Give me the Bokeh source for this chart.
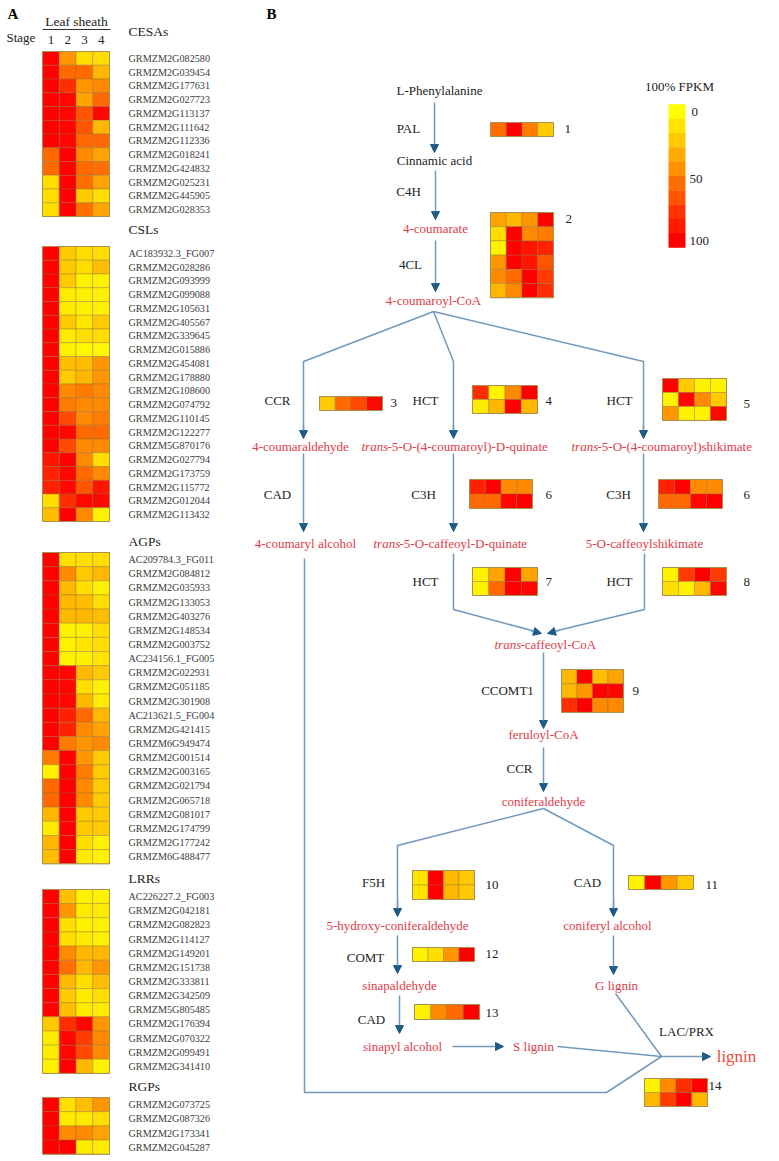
from bokeh.plotting import figure
from bokeh.models import Range1d, ColumnDataSource, Arrow, NormalHead
from bokeh.transform import linear_cmap
from bokeh.core.properties import value
from bokeh.embed import file_html
from bokeh.resources import INLINE

# ---------------- data ----------------
stages = ["1", "2", "3", "4"]

cesa_genes = ["GRMZM2G082580", "GRMZM2G039454", "GRMZM2G177631", "GRMZM2G027723",
              "GRMZM2G113137", "GRMZM2G111642", "GRMZM2G112336", "GRMZM2G018241",
              "GRMZM2G424832", "GRMZM2G025231", "GRMZM2G445905", "GRMZM2G028353"]
cesa_values = [[100, 42, 15, 15], [100, 60, 60, 30], [100, 80, 40, 45], [100, 95, 35, 60],
               [100, 95, 65, 95], [100, 95, 65, 30], [100, 95, 60, 60], [60, 100, 45, 35],
               [60, 100, 60, 55], [15, 100, 55, 35], [15, 100, 20, 15], [15, 100, 55, 35]]

csl_genes = ["AC183932.3_FG007", "GRMZM2G028286", "GRMZM2G093999", "GRMZM2G099088",
             "GRMZM2G105631", "GRMZM2G405567", "GRMZM2G339645", "GRMZM2G015886",
             "GRMZM2G454081", "GRMZM2G178880", "GRMZM2G108600", "GRMZM2G074792",
             "GRMZM2G110145", "GRMZM2G122277", "GRMZM5G870176", "GRMZM2G027794",
             "GRMZM2G173759", "GRMZM2G115772", "GRMZM2G012044", "GRMZM2G113432"]
csl_values = [[100, 20, 15, 15], [100, 20, 15, 25], [100, 20, 5, 5], [100, 8, 5, 5],
              [100, 8, 5, 5], [100, 20, 10, 20], [100, 8, 15, 15], [100, 5, 3, 3],
              [100, 25, 25, 40], [100, 20, 30, 40], [100, 45, 50, 45], [100, 50, 45, 45],
              [100, 70, 45, 50], [100, 95, 60, 60], [100, 70, 45, 45], [90, 100, 45, 15],
              [85, 95, 60, 45], [85, 95, 65, 90], [15, 80, 95, 95], [25, 100, 45, 5]]

agp_genes = ["AC209784.3_FG011", "GRMZM2G084812", "GRMZM2G035933", "GRMZM2G133053",
             "GRMZM2G403276", "GRMZM2G148534", "GRMZM2G003752", "AC234156.1_FG005",
             "GRMZM2G022931", "GRMZM2G051185", "GRMZM2G301908", "AC213621.5_FG004",
             "GRMZM2G421415", "GRMZM6G949474", "GRMZM2G001514", "GRMZM2G003165",
             "GRMZM2G021794", "GRMZM2G065718", "GRMZM2G081017", "GRMZM2G174799",
             "GRMZM2G177242", "GRMZM6G488477"]
agp_values = [[100, 15, 15, 15], [100, 45, 20, 30], [100, 30, 15, 5], [100, 30, 25, 15],
              [100, 30, 30, 25], [100, 5, 5, 15], [100, 5, 10, 15], [100, 5, 5, 10],
              [100, 95, 30, 20], [100, 95, 15, 5], [100, 95, 30, 8], [100, 85, 60, 30],
              [100, 85, 45, 35], [100, 50, 40, 45], [50, 100, 40, 20], [5, 100, 50, 20],
              [60, 100, 45, 20], [60, 100, 45, 20], [30, 100, 20, 20], [8, 100, 20, 20],
              [30, 100, 15, 5], [25, 100, 8, 5]]

lrr_genes = ["AC226227.2_FG003", "GRMZM2G042181", "GRMZM2G082823", "GRMZM2G114127",
             "GRMZM2G149201", "GRMZM2G151738", "GRMZM2G333811", "GRMZM2G342509",
             "GRMZM5G805485", "GRMZM2G176394", "GRMZM2G070322", "GRMZM2G099491",
             "GRMZM2G341410"]
lrr_values = [[100, 25, 5, 5], [100, 40, 8, 8], [100, 15, 5, 5], [100, 15, 8, 5],
              [100, 45, 30, 30], [100, 55, 30, 40], [100, 30, 15, 25], [100, 20, 8, 15],
              [100, 25, 8, 8], [20, 80, 95, 40], [8, 95, 75, 45], [8, 95, 70, 45],
              [5, 100, 30, 5]]

rgp_genes = ["GRMZM2G073725", "GRMZM2G087326", "GRMZM2G173341", "GRMZM2G045287"]
rgp_values = [[100, 15, 25, 40], [100, 8, 8, 15], [100, 45, 45, 35], [100, 100, 8, 8]]

# pathway enzyme heatmaps (panel B)
pal_values = [[55, 100, 50, 20]]
cl4_values = [[35, 30, 40, 100], [15, 100, 45, 50], [5, 100, 90, 85],
              [40, 100, 90, 65], [45, 60, 100, 75], [30, 45, 100, 80]]
ccr3_values = [[20, 60, 70, 95]]
hct4_values = [[80, 5, 45, 100], [8, 30, 100, 30]]
hct5_values = [[100, 20, 5, 5], [5, 95, 45, 20], [40, 5, 5, 95]]
c3h6_values = [[85, 100, 45, 45], [60, 60, 95, 100]]
hct7_values = [[5, 35, 100, 35], [5, 60, 100, 95]]
hct8_values = [[5, 75, 100, 75], [15, 5, 30, 95]]
ccomt9_values = [[30, 100, 25, 35], [30, 40, 100, 95], [80, 100, 45, 45]]
f5h10_values = [[10, 100, 30, 20], [10, 100, 30, 20]]
cad11_values = [[5, 100, 40, 20]]
comt12_values = [[5, 15, 40, 100]]
cad13_values = [[5, 45, 60, 100]]
lac14_values = [[5, 45, 80, 100], [30, 75, 100, 30]]

colorbar_ticks = ["0", "50", "100"]

# ---------------- figure ----------------
W, H = 779, 1161
p = figure(width=W, height=H, x_range=Range1d(0, W), y_range=Range1d(H, 0),
           output_backend="svg", toolbar_location=None, min_border=0,
           x_axis_location=None, y_axis_location=None)
p.grid.visible = False
p.outline_line_color = None
p.background_fill_color = "white"

PALETTE = ["#ff%02x00" % int(round(255 * (1 - i / 39))) for i in range(40)]
FONT = value("Liberation Serif")
RED = "#e23a47"
BLACK = "#222222"


def heat(values, x0, y0, cw, ch):
    xs, ys, vs = [], [], []
    for i, row in enumerate(values):
        for j, v in enumerate(row):
            xs.append(x0 + cw * (j + 0.5))
            ys.append(y0 + ch * (i + 0.5))
            vs.append(v)
    src = ColumnDataSource(dict(x=xs, y=ys, v=vs))
    p.rect("x", "y", width=cw, height=ch, source=src,
           fill_color=linear_cmap("v", PALETTE, 0, 100),
           line_color="#8a6a3a", line_width=0.6, line_alpha=0.6)
    nr, nc = len(values), len(values[0])
    p.rect(x0 + cw * nc / 2, y0 + ch * nr / 2, width=cw * nc, height=ch * nr,
           fill_color=None, line_color="#a89050", line_width=1)


def txt(xs, ys, texts, color=BLACK, size="13px", align="center", style="normal"):
    src = ColumnDataSource(dict(x=xs, y=ys, t=texts))
    p.text("x", "y", text="t", source=src, text_color=color, text_font=FONT,
           text_font_size=size, text_align=align, text_baseline="middle",
           text_font_style=style)


# ---------------- panel A ----------------
txt([7], [13], ["A"], color="black", size="15px", align="left", style="bold")
txt([76], [21], ["Leaf sheath"], size="13.5px")
p.segment(x0=[42], y0=[29], x1=[110], y1=[29], line_color="#333333", line_width=1)
txt([6], [37], ["Stage"], size="13px", align="left")
HX0, HCW = 42, 16.75
txt([HX0 + HCW * (j + 0.5) for j in range(4)], [39] * 4, stages, size="13px")

groups = [("CESAs", cesa_genes, cesa_values, 31, 51, 13.75),
          ("CSLs", csl_genes, csl_values, 229, 246, 13.75),
          ("AGPs", agp_genes, agp_values, 541, 552, 14.15),
          ("LRRs", lrr_genes, lrr_values, 878, 889, 14.15),
          ("RGPs", rgp_genes, rgp_values, 1086, 1097, 14.2)]
for title, genes, vals, ty, y0, ch in groups:
    txt([128], [ty], [title], color=BLACK, size="13.5px", align="left")
    heat(vals, HX0, y0, HCW, ch)
    txt([128] * len(genes), [y0 + ch * (i + 0.5) for i in range(len(genes))], genes,
        color="#3a3a3a", size="10.2px", align="left")

# ---------------- panel B ----------------
txt([266], [13], ["B"], color="black", size="15px", align="left", style="bold")

heats = [(pal_values, 490, 122, 15.75, 14), (cl4_values, 490, 212, 15.75, 14.2),
         (ccr3_values, 319, 396, 15.75, 14), (hct4_values, 472, 385, 16.25, 14),
         (hct5_values, 662, 378, 16, 14), (c3h6_values, 469, 479, 15.75, 14.5),
         (c3h6_values, 658, 479, 16, 14.5), (hct7_values, 472, 567, 16.25, 14),
         (hct8_values, 662, 567, 16, 14), (ccomt9_values, 561, 669, 15.5, 14.3),
         (f5h10_values, 412, 870, 15.5, 14.5), (cad11_values, 628, 875, 16.25, 14),
         (comt12_values, 412, 947, 15.5, 14), (cad13_values, 414, 1004, 16.25, 15),
         (lac14_values, 644, 1078, 15.75, 14)]
for vals, x0, y0, cw, ch in heats:
    heat(vals, x0, y0, cw, ch)

num_x = [564, 565, 390, 545, 743, 545, 743, 545, 743, 632, 485, 705, 485, 485, 708]
num_y = [128, 218, 402, 400, 403, 494, 494, 581, 581, 690, 884, 884, 953, 1012, 1085]
num_t = ["1", "2", "3", "4", "5", "6", "6", "7", "8", "9", "10", "11", "12", "13", "14"]
txt(num_x, num_y, num_t, size="13px", align="left")

# colour bar
cb_n = 10
cb_h = (247 - 104) / cb_n
cb_src = ColumnDataSource(dict(y=[104 + cb_h * (i + 0.5) for i in range(cb_n)],
                               v=[i * 100 / (cb_n - 1) for i in range(cb_n)]))
p.rect(676.5, "y", width=17, height=cb_h + 0.3, source=cb_src,
       fill_color=linear_cmap("v", PALETTE, 0, 100), line_color=None)
txt([679], [86], ["100% FPKM"], size="13px")
txt([691, 689, 689], [111, 178, 240], colorbar_ticks, size="13px", align="left")

# enzyme labels
enz = [("PAL", 408, 128), ("C4H", 408, 191), ("4CL", 410, 264), ("CCR", 277, 400),
       ("HCT", 425, 400), ("HCT", 619, 400), ("CAD", 277, 494), ("C3H", 423, 494),
       ("C3H", 618, 494), ("HCT", 425, 581), ("HCT", 619, 581), ("CCOMT1", 507, 690),
       ("CCR", 519, 768), ("F5H", 373, 882), ("CAD", 587, 882), ("COMT", 365, 957),
       ("CAD", 371, 1019), ("LAC/PRX", 686, 1031)]
txt([e[1] for e in enz], [e[2] for e in enz], [e[0] for e in enz], size="13px")
txt([439, 434], [90, 160], ["L-Phenylalanine", "Cinnamic acid"], size="13px")

mets = [("4-coumarate", 435, 228), ("4-coumaroyl-CoA", 433, 300),
        ("4-coumaraldehyde", 300, 446), ("4-coumaryl alcohol", 305, 543),
        ("5-O-caffeoylshikimate", 644, 543), ("feruloyl-CoA", 543, 734),
        ("coniferaldehyde", 543, 801), ("5-hydroxy-coniferaldehyde", 397, 925),
        ("coniferyl alcohol", 607, 925), ("sinapaldehyde", 399, 985),
        ("G lignin", 616, 985), ("sinapyl alcohol", 402, 1046), ("S lignin", 533, 1046)]
txt([m[1] for m in mets], [m[2] for m in mets], [m[0] for m in mets], color=RED, size="13px")

# italic "trans" prefixes
txt([361, 571, 373, 494], [446, 446, 543, 644], ["trans"] * 4, color=RED, size="13px",
    align="left", style="italic")
txt([387, 597, 399, 520], [446, 446, 543, 644],
    ["-5-O-(4-coumaroyl)-D-quinate", "-5-O-(4-coumaroyl)shikimate",
     "-5-O-caffeoyl-D-quinate", "-caffeoyl-CoA"], color=RED, size="13px", align="left")
txt([736], [1056], ["lignin"], color="#ef4b3c", size="17px")

# connector lines
LINE = "#7199bd"
HEAD = "#1d5a85"
polys = [([433, 303, 303], [311, 361, 430]),
         ([433, 453, 453], [311, 361, 430]),
         ([433, 643, 643], [311, 361, 430]),
         ([453, 453, 535], [553, 609, 631]),
         ([644, 644, 553], [553, 609, 631]),
         ([543, 397, 397], [808, 845, 908]),
         ([543, 613, 613], [808, 845, 908]),
         ([557, 661], [1046, 1056]),
         ([615, 661], [993, 1056]),
         ([304, 304, 606, 661], [558, 1092, 1092, 1056])]
p.multi_line([q[0] for q in polys], [q[1] for q in polys], line_color=LINE, line_width=1.5)

arrows = [(434, 102, 434, 152), (435, 170, 435, 219), (435, 240, 435, 291),
          (303, 425, 303, 438), (453, 425, 453, 438), (643, 425, 643, 438),
          (303, 453, 303, 531), (453, 453, 453, 531), (643, 453, 643, 531),
          (530, 630, 541, 633), (558, 630, 547, 633),
          (543, 652, 543, 728), (543, 747, 543, 791),
          (397, 900, 397, 916), (613, 900, 613, 916),
          (397, 935, 397, 973), (613, 935, 613, 974), (399, 995, 399, 1033),
          (452, 1046, 503, 1046), (661, 1056, 710, 1056)]
for x0, y0, x1, y1 in arrows:
    p.add_layout(Arrow(x_start=x0, y_start=y0, x_end=x1, y_end=y1,
                       line_color=LINE, line_width=1.5,
                       end=NormalHead(size=8, fill_color=HEAD, line_color=HEAD)))

open("out.html", "w").write(file_html(p, INLINE))
